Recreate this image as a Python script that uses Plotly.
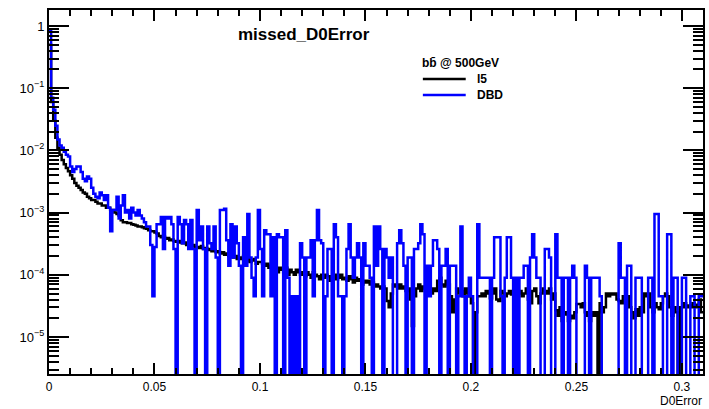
import numpy as np
import plotly.graph_objects as go

# ---------------- data (bin width 0.001, range 0 - 0.31) ----------------
bin_lo = 0.0
bin_width = 0.001
n_bins = 310

i5_values = [
    0.5, 0.06, 0.03, 0.016, 0.011, 0.0085, 0.007, 0.006, 0.0052, 0.0046,
    0.004, 0.0035, 0.003, 0.0027, 0.0025, 0.0023, 0.0021, 0.002, 0.0018, 0.0017,
    0.0016, 0.0016, 0.0015, 0.0014, 0.0014, 0.0013, 0.0013, 0.0012, 0.0012, 0.0011,
    0.0011, 0.001, 0.00095, 0.0009, 0.00075, 0.0007, 0.0007, 0.00068, 0.00068, 0.00065,
    0.00064, 0.00062, 0.0006, 0.0006, 0.00058, 0.00056, 0.00055, 0.00052, 0.0005, 0.0005,
    0.00048, 0.00046, 0.00042, 0.0004, 0.00041, 0.00038, 0.00039, 0.00036, 0.00037, 0.00035,
    0.00034, 0.00035, 0.00033, 0.00032, 0.00033, 0.0003, 0.00031, 0.00029, 0.0003, 0.00028,
    0.00028, 0.00027, 0.00029, 0.00026, 0.00027, 0.00025, 0.00026, 0.00024, 0.00025, 0.00023,
    0.00024, 0.00022, 0.00023, 0.00021, 0.00022, 0.0002, 0.00022, 0.00019, 0.0002, 0.00018,
    0.00019, 0.00018, 0.0002, 0.00017, 0.00018, 0.00016, 0.00017, 0.00018, 0.00015, 0.00016,
    0.00016, 0.00015, 0.00014, 0.00015, 0.00013, 0.00014, 0.00012, 0.00013, 0.00011, 0.00013,
    0.00012, 0.00011, 0.00013, 0.0001, 0.00012, 0.00011, 0.0001, 0.00012, 0.00011, 0.0001,
    0.00011, 9.5e-5, 0.00011, 0.0001, 9e-5, 0.00011, 0.0001, 9.5e-5, 8.5e-5, 0.0001,
    9e-5, 0.0001, 9.5e-5, 8e-5, 9.5e-5, 0.0001, 8.5e-5, 9e-5, 0.0001, 8.5e-5,
    9e-5, 8e-5, 9.5e-5, 8.5e-5, 7.5e-5, 9e-5, 8e-5, 8.5e-5, 7e-5, 8e-5,
    7.5e-5, 8e-5, 7e-5, 7.5e-5, 6.5e-5, 7e-5, 6.5e-5, 6e-5, 6.5e-5, 6e-5,
    3.8e-5, 3e-5, 5e-5, 7e-5, 6.5e-5, 6e-5, 7e-5, 6e-5, 6.5e-5, 5.5e-5,
    6e-5, 4e-5, 1.5e-5, 4.5e-5, 6e-5, 7e-5, 5.5e-5, 6.5e-5, 6e-5, 5.5e-5,
    6e-5, 5e-5, 6e-5, 5.5e-5, 8e-5, 9e-5, 7e-5, 6.5e-5, 8e-5, 7e-5,
    4.5e-5, 2.5e-5, 4e-5, 6e-5, 5e-5, 5.5e-5, 4.5e-5, 6e-5, 5e-5, 4.5e-5,
    3.5e-5, 0, 2.5e-5, 4.5e-5, 4.5e-5, 5e-5, 4.5e-5, 5.5e-5, 5e-5, 4.2e-5,
    5e-5, 6e-5, 4e-5, 3.8e-5, 5.5e-5, 5e-5, 4.5e-5, 5e-5, 5.5e-5, 4.8e-5,
    5e-5, 4.5e-5, 5e-5, 5.5e-5, 4.5e-5, 5e-5, 6e-5, 4e-5, 3.5e-5, 5.5e-5,
    6e-5, 4.5e-5, 3.5e-5, 5e-5, 6e-5, 5.5e-5, 5e-5, 6e-5, 4e-5, 5e-5,
    2.7e-5, 2.2e-5, 3e-5, 1.8e-5, 2.5e-5, 2.3e-5, 1.8e-5, 2.2e-5, 2e-5, 2.5e-5,
    3.4e-5, 3.4e-5, 3e-5, 3.5e-5, 2.5e-5, 2.2e-5, 1.8e-5, 2.5e-5, 2.2e-5, 2.5e-5,
    0, 3.5e-5, 2.5e-5, 3e-5, 5e-5, 4.5e-5, 5e-5, 4.8e-5, 5e-5, 4e-5,
    3.8e-5, 3.5e-5, 4.5e-5, 4.5e-5, 4.5e-5, 3e-5, 2.5e-5, 2e-5, 2.8e-5, 2.2e-5,
    3e-5, 2.5e-5, 5e-5, 4.5e-5, 5e-5, 3e-5, 2.5e-5, 3.5e-5, 3e-5, 2.8e-5,
    3.5e-5, 4.5e-5, 5e-5, 4.5e-5, 3e-5, 2.2e-5, 3e-5, 2.5e-5, 0, 3e-5,
    3e-5, 3.5e-5, 3e-5, 3.2e-5, 3e-5, 3.5e-5, 3e-5, 3.3e-5, 4e-5, 2.5e-5,
]

dbd_values = [
    0.85, 0.07, 0.045, 0.025, 0.015, 0.012, 0.011, 0.0095, 0.0085, 0.008,
    0.0055, 0.0045, 0.005, 0.0055, 0.0055, 0.0045, 0.0035, 0.0032, 0.0038, 0.0035,
    0.0025, 0.002, 0.0018, 0.0017, 0.0021, 0.0019, 0.0016, 0.0019, 0.0012, 0.0005,
    0.0011, 0.0011, 0.0018, 0.0008, 0.0013, 0.0019, 0.001, 0.0011, 0.0008, 0.0012,
    0.001, 0.0009, 0.0011, 0.0009, 0.0008, 0.0007, 0.0006, 0.0006, 0.0003, 4.5e-5,
    0.00028, 0.00065, 6.5e-4, 8.5e-4, 2.6e-4, 8.5e-4, 8e-4, 8.5e-4, 6.5e-4, 2.6e-4,
    0, 8.5e-4, 6.5e-4, 3.2e-4, 7.6e-4, 6.5e-4, 2.6e-4, 7.6e-4, 2.6e-4, 0,
    1.1e-3, 3.6e-4, 6e-4, 2.6e-4, 0, 6e-4, 3.2e-4, 2.6e-4, 6e-4, 1.9e-4,
    0, 1.1e-3, 1.1e-3, 1.15e-3, 3.6e-4, 1.4e-4, 6.5e-4, 1.9e-4, 6e-4, 3.2e-4,
    1.4e-4, 0, 4e-4, 1.4e-4, 9.5e-4, 1.9e-4, 9e-5, 4.5e-5, 1.9e-4, 1.1e-3,
    2.6e-4, 4.5e-5, 5.2e-4, 4.5e-4, 4.5e-4, 4.5e-5, 4e-4, 0, 4.5e-4, 4e-4,
    4e-4, 0, 5.2e-4, 9e-5, 0, 4.5e-5, 0, 4.5e-5, 0, 3.2e-4,
    1.9e-4, 0, 1.9e-4, 1.9e-4, 3.6e-4, 4.5e-5, 3.6e-4, 1.1e-3, 3.6e-4, 3.2e-4,
    0, 4.5e-5, 2.6e-4, 2.6e-4, 0, 6.5e-4, 4e-4, 4.5e-5, 4.5e-5, 0,
    4.5e-5, 2.6e-4, 6.5e-4, 1.9e-4, 9e-5, 1.9e-4, 3.2e-4, 1.9e-4, 0, 3.2e-4,
    1.4e-4, 1.4e-4, 9e-5, 0, 6e-4, 1.4e-4, 6e-4, 2.6e-4, 0, 2.6e-4,
    1.9e-4, 9e-5, 1.9e-4, 0, 0, 3.2e-4, 5.2e-4, 3.2e-4, 1.4e-4, 0,
    1.9e-4, 1.9e-4, 0, 2.6e-4, 2.6e-4, 3.2e-4, 6.5e-4, 4.5e-4, 0, 1.4e-4,
    4.5e-5, 1.4e-4, 3.6e-4, 3.6e-4, 2.6e-4, 0, 1.4e-4, 1.4e-4, 2.6e-4, 0,
    1.4e-4, 1.4e-4, 1.4e-4, 0, 4.5e-5, 6e-4, 4.5e-5, 0, 4.5e-5, 9e-5,
    4.5e-5, 0, 0, 6.5e-4, 9e-5, 9e-5, 9e-5, 9e-5, 9e-5, 0,
    9e-5, 4e-4, 4e-4, 4e-4, 4.5e-5, 0, 9e-5, 4e-4, 4e-4, 9e-5,
    0, 9e-5, 0, 9e-5, 9e-5, 1.4e-4, 1.4e-4, 0, 1.9e-4, 4.5e-4,
    1.9e-4, 9e-5, 9e-5, 0, 0, 2.6e-4, 2.6e-4, 1.9e-4, 0, 0,
    4.5e-4, 9e-5, 9e-5, 0, 9e-5, 9e-5, 0, 9e-5, 1.4e-4, 9e-5,
    0, 0, 0, 0, 1.4e-4, 9e-5, 0, 9e-5, 9e-5, 9e-5,
    9e-5, 4.5e-5, 0, 0, 0, 0, 0, 0, 0, 0,
    3.2e-4, 9e-5, 9e-5, 0, 1.4e-4, 1.4e-4, 0, 0, 9e-5, 9e-5,
    9e-5, 0, 0, 0, 9e-5, 9e-5, 0, 9.5e-4, 9.5e-4, 4.5e-5,
    4.5e-5, 0, 0, 4.5e-4, 4.5e-4, 0, 9e-5, 9e-5, 0, 0,
    9e-5, 9e-5, 0, 0, 4.5e-5, 4.5e-5, 0, 0, 4.5e-5, 4.5e-5,
]

series_names = ["l5", "DBD"]
series_colors = ["#000000", "#0000ff"]
x_ticks = [0, 0.05, 0.1, 0.15, 0.2, 0.25, 0.3]
x_tick_text = ["0", "0.05", "0.1", "0.15", "0.2", "0.25", "0.3"]
y_ticks = [1, 1e-1, 1e-2, 1e-3, 1e-4, 1e-5]
y_tick_text = ["1", "10<sup>\u22121</sup>", "10<sup>\u22122</sup>", "10<sup>\u22123</sup>",
               "10<sup>\u22124</sup>", "10<sup>\u22125</sup>"]
title_text = "missed_D0Error"
x_title = "D0Error"
legend_header = "bb\u0304 @ 500GeV"

# ---------------- figure ----------------
edges = bin_lo + bin_width * np.arange(n_bins + 1)
FLOOR = 1e-9  # empty bins drawn down below the frame, as ROOT does


def step_xy(vals):
    v = np.asarray(vals, dtype=float)
    v = np.where(v > 0, v, FLOOR)
    return edges, np.append(v, v[-1])


fig = go.Figure()
for vals, name, col in [(i5_values, series_names[0], series_colors[0]),
                        (dbd_values, series_names[1], series_colors[1])]:
    xs, ys = step_xy(vals)
    fig.add_trace(go.Scatter(x=xs, y=ys, mode="lines", name=name,
                             line=dict(color=col, width=2.5, shape="hv"),
                             showlegend=False))

font_family = "Liberation Sans, Arial, sans-serif"
minor_y = [m * 10.0 ** k for k in range(-6, 1) for m in range(2, 10)]

fig.update_layout(
    width=709, height=409,
    margin=dict(l=49, r=4, t=10, b=35),
    paper_bgcolor="white", plot_bgcolor="white",
    font=dict(family=font_family, size=13, color="black"),
    xaxis=dict(range=[0, 0.31], tickvals=x_ticks, ticktext=x_tick_text,
               ticks="inside", ticklen=11, tickwidth=1.5, tickcolor="black",
               showline=True, linecolor="black", linewidth=2, mirror="ticks",
               showgrid=False, zeroline=False, ticklabelstandoff=1,
               minor=dict(dtick=0.01, tick0=0, ticks="inside", ticklen=6,
                          tickwidth=1.5, tickcolor="black", showgrid=False),
               tickfont=dict(size=12)),
    yaxis=dict(type="log", range=[-5.595, 0.257], tickvals=y_ticks, ticktext=y_tick_text,
               ticks="inside", ticklen=20, tickwidth=1.5, tickcolor="black",
               showline=True, linecolor="black", linewidth=2, mirror="ticks",
               showgrid=False, zeroline=False,
               minor=dict(tickmode="array", tickvals=minor_y, ticks="inside", ticklen=10,
                          tickwidth=1.5, tickcolor="black", showgrid=False),
               tickfont=dict(size=13)),
)

annotations = [
    dict(text="<b>" + title_text + "</b>", xref="paper", yref="paper",
         x=(237 - 49) / 656, y=(374 - 35) / 364, xanchor="left", yanchor="middle",
         showarrow=False, font=dict(size=17, family=font_family)),
    dict(text=x_title, xref="paper", yref="paper", x=1.0, y=(374 - 409) / 364,
         xanchor="right", yanchor="bottom", showarrow=False, borderpad=0,
         font=dict(size=12, family=font_family)),
    dict(text="<b>" + legend_header + "</b>", xref="paper", yref="paper",
         x=(421 - 49) / 656, y=(374 - 63) / 364, xanchor="left", yanchor="middle",
         showarrow=False, font=dict(size=12, family=font_family)),
]
legend_rows_y = [79, 95]
for name, col, py in zip(series_names, series_colors, legend_rows_y):
    yp = (374 - py) / 364
    annotations.append(dict(text="<b>" + name + "</b>", xref="paper", yref="paper",
                            x=(476 - 49) / 656, y=yp, xanchor="left", yanchor="middle",
                            showarrow=False, font=dict(size=12, family=font_family)))
    fig.add_shape(type="line", xref="paper", yref="paper",
                  x0=(424 - 49) / 656, x1=(467 - 49) / 656, y0=yp, y1=yp,
                  line=dict(color=col, width=2.5))
fig.update_layout(annotations=annotations)

fig.write_html("out.html")
